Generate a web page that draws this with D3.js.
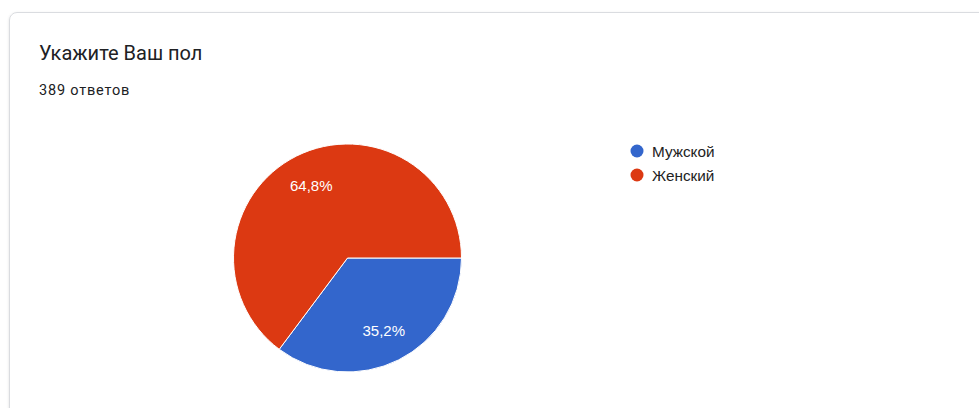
<!DOCTYPE html>
<html>
<head>
<meta charset="utf-8">
<script src="https://cdn.jsdelivr.net/npm/d3@7"></script>
<style>
  body { margin: 0; background: #fff; }
  .card { position: absolute; left: 9px; top: 12px; width: 990px; height: 420px;
          border: 1px solid #dadce0; border-radius: 8px; box-shadow: 0 1px 3px rgba(0,0,0,0.12); }
</style>
</head>
<body>
<div class="card"></div>
<div id="chart-container" style="position:absolute;left:0;top:0;"></div>
<script>
var title = "Укажите Ваш пол",
    subtitle = "389 ответов";
var categories = ["Мужской", "Женский"];
var counts = [137, 252];
var colors = ["#3366cc", "#dc3912"];

var width = 979, height = 408;

var svg = d3.select("#chart-container")
  .append("svg")
    .attr("width", width)
    .attr("height", height);

svg.append("text")
    .attr("x", 39)
    .attr("y", 60)
    .style("font", "20px Roboto, sans-serif")
    .style("fill", "#202124")
    .text(title);

svg.append("text")
    .attr("x", 39)
    .attr("y", 95)
    .style("font", "14.5px Roboto, sans-serif")
    .style("letter-spacing", "0.8px")
    .style("fill", "#202124")
    .text(subtitle);

var data = categories.map(function(c, i) { return {name: c, value: counts[i], color: colors[i]}; });
var total = d3.sum(counts);

var fmt = d3.formatLocale({decimal: ",", thousands: " ", grouping: [3], currency: ["", ""]}).format(".1%");

var radius = 114;
var g = svg.append("g")
    .attr("transform", "translate(347.5,258)");

var pie = d3.pie()
    .sort(null)
    .value(function(d) { return d.value; })
    .startAngle(Math.PI / 2)
    .endAngle(Math.PI / 2 + 2 * Math.PI);

var arc = d3.arc().innerRadius(0).outerRadius(radius);
var labelArc = d3.arc().innerRadius(radius * 0.71).outerRadius(radius * 0.71);

var arcs = pie(data);

g.selectAll(".slice")
    .data(arcs)
  .enter().append("path")
    .attr("class", "slice")
    .attr("d", arc)
    .style("fill", function(d) { return d.data.color; })
    .style("stroke", "#fff")
    .style("stroke-width", 1);

g.selectAll(".label")
    .data(arcs)
  .enter().append("text")
    .attr("class", "label")
    .attr("transform", function(d) { return "translate(" + labelArc.centroid(d) + ")"; })
    .attr("text-anchor", "middle")
    .attr("dy", "0.35em")
    .style("font", "15px Arial, 'Liberation Sans', sans-serif")
    .style("fill", "#fff")
    .text(function(d) { return fmt(d.data.value / total); });

var legend = svg.append("g")
    .attr("transform", "translate(637,151)");

var items = legend.selectAll(".item")
    .data(data)
  .enter().append("g")
    .attr("class", "item")
    .attr("transform", function(d, i) { return "translate(0," + (i * 24) + ")"; });

items.append("circle")
    .attr("r", 6.5)
    .style("fill", function(d) { return d.color; });

items.append("text")
    .attr("x", 15)
    .attr("dy", "0.36em")
    .style("font", "15.3px Arial, 'Liberation Sans', sans-serif")
    .style("fill", "#222")
    .text(function(d) { return d.name; });
</script>
</body>
</html>
